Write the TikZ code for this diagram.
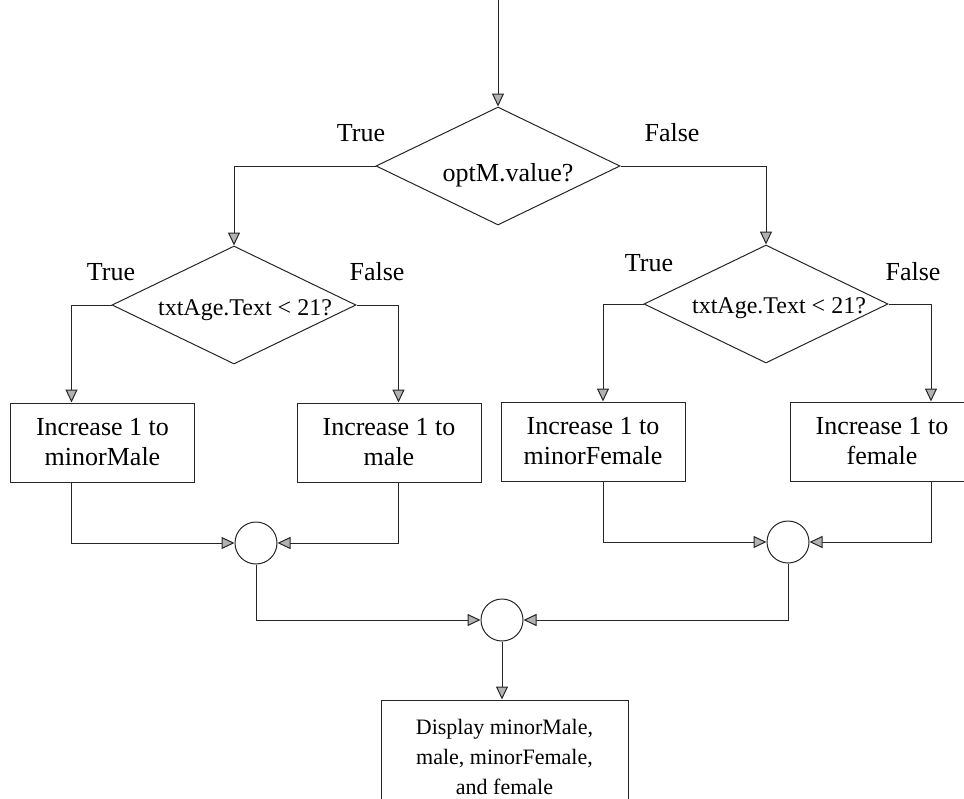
\documentclass[tikz,border=0pt]{standalone}
\usepackage{fontspec}
\setmainfont{Liberation Serif}
\usetikzlibrary{arrows.meta,shapes.geometric}
\begin{document}
\begin{tikzpicture}[x=1pt,y=-1pt,
  line/.style={draw=black!85,line width=1pt},
  arr/.style={line,-{Triangle[length=13pt,width=12pt,fill=black!30]}},
  dia/.style={diamond,draw=black!85,line width=1pt,minimum width=244pt,minimum height=118pt,inner sep=0pt},
  box/.style={rectangle,draw=black!85,line width=1pt,minimum width=184pt,minimum height=79pt,inner sep=0pt,align=center,font=\fontsize{26}{30}\selectfont},
  bigbox/.style={rectangle,draw=black!85,line width=1pt,minimum width=247pt,minimum height=114pt,inner sep=0pt,align=center,font=\fontsize{22}{30}\selectfont},
  lbl/.style={font=\fontsize{26}{30}\selectfont,inner sep=0pt},
  dtxt/.style={font=\fontsize{24}{28}\selectfont,inner sep=0pt},
  junc/.style={circle,draw=black!85,line width=1pt,minimum size=42pt,inner sep=0pt}]
\fill[white] (0,0) rectangle (964,798);
\clip (0,0) rectangle (964,798);
\coordinate (start) at (498,-5);
% decisions
\node[dia] (d1) at (498,166) {};
\node[dtxt,font=\fontsize{26}{30}\selectfont] (d1t) at (508,175) {optM.value?};
\node[dia] (d2) at (234,305) {};
\node[dtxt] (d2t) at (245,310) {txtAge.Text < 21?};
\node[dia] (d3) at (766,304) {};
\node[dtxt] (d3t) at (779,308) {txtAge.Text < 21?};
% labels
\node[lbl] (l1t) at (361,133) {True};
\node[lbl] (l1f) at (672,133) {False};
\node[lbl] (l2t) at (111,272) {True};
\node[lbl] (l2f) at (377,272) {False};
\node[lbl] (l3t) at (649,263) {True};
\node[lbl] (l3f) at (913,272) {False};
% boxes
\node[box] (b1) at (102.5,442.5) {Increase 1 to\\minorMale};
\node[box] (b2) at (389,442.5) {Increase 1 to\\male};
\node[box] (b3) at (593,441.5) {Increase 1 to\\minorFemale};
\node[box] (b4) at (882,441.5) {Increase 1 to\\female};
\node[bigbox] (b5) at (504.5,757) {Display minorMale,\\male, minorFemale,\\and female};
% junctions
\node[junc] (c1) at (256,543) {};
\node[junc] (c2) at (788,542) {};
\node[junc] (c3) at (502,620) {};
% drop columns
\coordinate (x1) at (71.5,0);
\coordinate (x2) at (398.5,0);
\coordinate (x3) at (603,0);
\coordinate (x4) at (931,0);
% connectors
\draw[arr] (start) -- (d1.north);
\draw[arr] (d1.west) -| (d2.north);
\draw[arr] (d1.east) -| (d3.north);
\draw[arr] (d2.west) -| (b1.north -| x1);
\draw[arr] (d2.east) -| (b2.north -| x2);
\draw[arr] (d3.west) -| (b3.north -| x3);
\draw[arr] (d3.east) -| (b4.north -| x4);
\draw[arr] (b1.south -| x1) |- (c1.west);
\draw[arr] (b2.south -| x2) |- (c1.east);
\draw[arr] (b3.south -| x3) |- (c2.west);
\draw[arr] (b4.south -| x4) |- (c2.east);
\draw[arr] (c1.south) |- (c3.west);
\draw[arr] (c2.south) |- (c3.east);
\draw[arr] (c3.south) -- (b5.north -| c3.south);
\end{tikzpicture}
\end{document}
